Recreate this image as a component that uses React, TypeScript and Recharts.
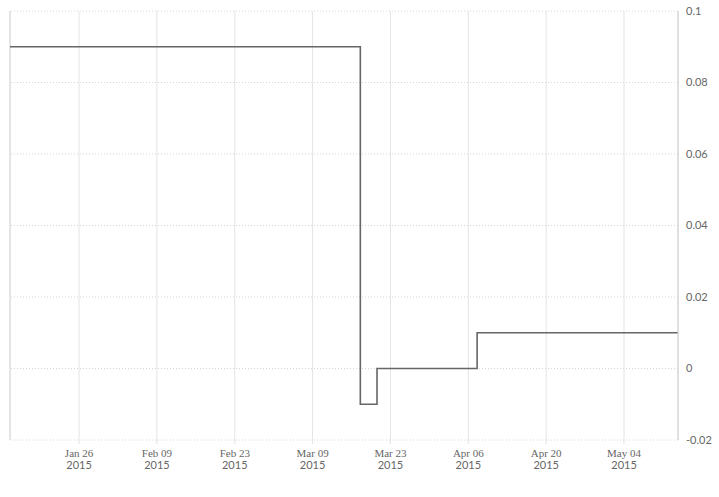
import {
  LineChart,
  Line,
  XAxis,
  YAxis,
  CartesianGrid,
  ReferenceLine,
} from "recharts";

// step changes: each value holds until the next date
const stepDates = [
  "2015-01-13T14:00:00Z",
  "2015-03-17T14:00:00Z",
  "2015-03-20T14:00:00Z",
  "2015-04-07T14:00:00Z",
  "2015-05-13T17:00:00Z",
];
const stepValues = [0.09, -0.01, 0, 0.01, 0.01];

const tickDates = [
  "2015-01-26",
  "2015-02-09",
  "2015-02-23",
  "2015-03-09",
  "2015-03-23",
  "2015-04-06",
  "2015-04-20",
  "2015-05-04",
];
const tickLabels = [
  "Jan 26",
  "Feb 09",
  "Feb 23",
  "Mar 09",
  "Mar 23",
  "Apr 06",
  "Apr 20",
  "May 04",
];
const tickYear = "2015";
const yTicks = [-0.02, 0, 0.02, 0.04, 0.06, 0.08, 0.1];

const data = stepDates.map((d, i) => ({ t: Date.parse(d), v: stepValues[i] }));
const xTicks = tickDates.map((d) => Date.parse(d));
const domainStart = data[0].t;
const domainEnd = data[data.length - 1].t;

function DateTick({ x, y, payload }: any) {
  const idx = xTicks.indexOf(payload.value);
  return (
    <g transform={`translate(${x},${y})`}>
      <text
        textAnchor="middle"
        dy={10.5}
        fill="#666"
        fontSize={11}
        fontFamily="'Liberation Serif', serif"
      >
        {tickLabels[idx]}
      </text>
      <text
        textAnchor="middle"
        dy={23}
        fill="#666"
        fontSize={11}
        fontFamily="Lato, sans-serif"
      >
        {tickYear}
      </text>
    </g>
  );
}

export default function App() {
  return (
    <div style={{ position: "absolute", left: 0, top: 0, background: "#fff" }}>
      <LineChart
        width={719}
        height={497}
        data={data}
        margin={{ top: 11, right: 1, bottom: 0, left: 10 }}
      >
        <CartesianGrid horizontal={false} stroke="#e4e4e4" />
        {/* dotted horizontal guides, top and bottom included */}
        {yTicks.map((v) => (
          <ReferenceLine
            key={v}
            y={v}
            stroke="#d6d6d6"
            strokeDasharray="1 2"
          />
        ))}
        <ReferenceLine x={domainStart} stroke="#d8d8d8" />
        <XAxis
          dataKey="t"
          type="number"
          domain={[domainStart, domainEnd]}
          ticks={xTicks}
          tick={<DateTick />}
          axisLine={false}
          tickLine={{ stroke: "#e4e4e4" }}
          tickSize={4}
          height={57}
          interval={0}
        />
        <YAxis
          orientation="right"
          type="number"
          domain={[-0.02, 0.1]}
          ticks={yTicks}
          width={40}
          tickLine={false}
          axisLine={{ stroke: "#cfcfcf" }}
          tick={{ fill: "#666", fontSize: 11, fontFamily: "Lato, sans-serif" }}
          interval={0}
        />
        <Line
          type="stepAfter"
          dataKey="v"
          stroke="#666"
          strokeWidth={1.6}
          dot={false}
          isAnimationActive={false}
        />
      </LineChart>
    </div>
  );
}
